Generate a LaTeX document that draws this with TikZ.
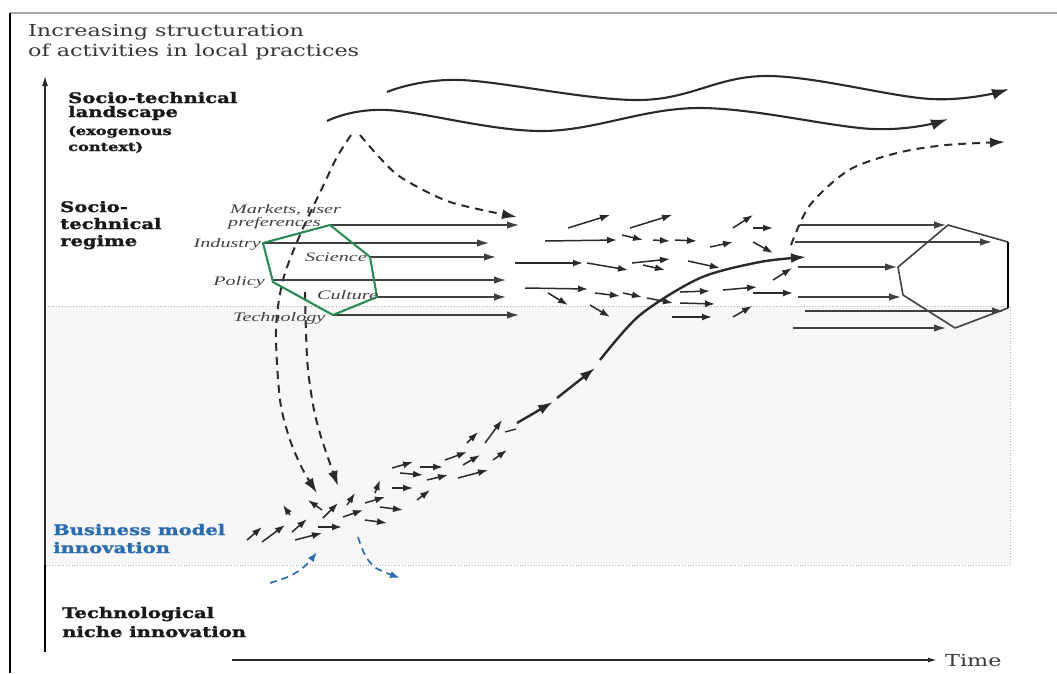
\documentclass[tikz,border=0pt]{standalone}
\usepackage{fontspec}
\setmainfont{DejaVu Serif}[FakeStretch=1.35, BoldFeatures={FakeBold=1.6}]
\newfontfamily\itfam{Liberation Serif}[FakeStretch=1.55]
\usetikzlibrary{arrows.meta}
\definecolor{ink}{HTML}{2A2A2A}
\definecolor{greyink}{HTML}{404040}
\definecolor{hexgreen}{HTML}{2A8C55}
\definecolor{bmblue}{HTML}{2B6CB0}
\definecolor{headink}{HTML}{3A3734}
\begin{document}
\begin{tikzpicture}[x=1pt,y=-1pt,
  rarrow/.style={draw=greyink, line width=2.2pt, -{Latex[length=13pt,width=7.5pt]}},
  sarrow/.style={draw=ink, line width=1.5pt, -{Latex[length=10pt,width=7pt]}},
  dasharrow/.style={draw=ink, line width=2pt, dash pattern=on 8pt off 6pt, -{Latex[length=15pt,width=10pt]}},
  wave/.style={draw=ink, line width=2.1pt, -{Latex[length=17pt,width=11pt]}},
  scurve/.style={draw=ink, line width=2.4pt, -{Latex[length=15pt,width=10pt]}},
  bluedash/.style={draw=bmblue, line width=1.7pt, dash pattern=on 7pt off 5pt, -{Latex[length=10pt,width=7pt]}},
  head/.style={font=\fontsize{16.5}{19}\selectfont, text=headink, anchor=base west, inner sep=0pt},
  lbl/.style={font=\bfseries\fontsize{14.5}{15}\selectfont, text=black!90, anchor=base west, inner sep=0pt},
  lbls/.style={font=\bfseries\fontsize{12}{14}\selectfont, text=black!90, anchor=base west, inner sep=0pt},
  itl/.style={font=\itfam\itshape\fontsize{13}{14}\selectfont, text=greyink, inner sep=0pt},
  dotln/.style={draw=gray!60, line width=0.8pt, dotted}
]
\useasboundingbox (0,0) rectangle (1057,673);
\fill[white] (0,0) rectangle (1057,673);
% frame
\draw[gray!70, line width=2.2pt] (10,13) -- (1057,13);
\draw[black, line width=2.2pt] (10,13) -- (10,673);
% shaded niche area
\fill[black!3] (45,306) rectangle (1010,565);
\draw[dotln] (45,306) -- (1010,306) -- (1010,565) -- (45,565);
% axes
\draw[ink, line width=1.3pt, -{Latex[length=10pt,width=6pt]}] (45,565) -- (45,76);
\draw[black, line width=2.6pt] (45,652) -- (45,565);
\coordinate (t0) at (232,660);
\coordinate (t1) at (937,660);
\draw[ink, line width=1.4pt, -{Latex[length=9pt,width=5pt]}] (t0) -- (t1);
\node[head, anchor=west] (time) at (945,661) {Time};
% titles
\node[head] (h1) at (28,36) {Increasing structuration};
\node[head] (h2) at (28,56) {of activities in local practices};
\node[lbl] (l1) at (68,103) {Socio-technical};
\node[lbl] (l2) at (68,117) {landscape};
\node[lbls] (l3) at (68,135) {(exogenous};
\node[lbls] (l4) at (68,151) {context)};
\node[lbl] (r1) at (60,212) {Socio-};
\node[lbl] (r2) at (60,229) {technical};
\node[lbl] (r3) at (60,246) {regime};
\node[lbl, text=bmblue] (b1) at (53,535) {Business model};
\node[lbl, text=bmblue] (b2) at (53,553) {innovation};
\node[lbl] (n1) at (62,618) {Technological};
\node[lbl] (n2) at (62,637) {niche innovation};
% landscape waves
\draw[wave] plot[smooth, tension=0.6] coordinates {(387,92) (460,80) (640,100) (766,76) (931,99) (1009,89)};
\draw[wave] plot[smooth, tension=0.6] coordinates {(327,121) (387,110) (543,131) (698,108) (873,129) (948,119)};
% dashed arrows from landscape
\draw[dasharrow] plot[smooth] coordinates {(360,135) (380,158) (402,178) (450,202) (517,217)};
\draw[dasharrow] plot[smooth] coordinates {(351,135) (337,157) (325,182) (300,235) (283,280) (276,330) (280,400) (290,440) (303,470) (317,493)};
\draw[dasharrow] plot[smooth] coordinates {(305,292) (306,333) (308,370) (314,410) (322,440) (338,486)};
\draw[dasharrow] plot[smooth] coordinates {(791,245) (810,205) (849,170) (897,153) (946,145) (1005,142)};
% regime arrows (left)
\foreach \a/\b/\c/\d in {330/225/520/225, 263/243/490/243, 370/257/497/257, 273/280/507/280, 378/297/507/297, 333/315/520/315}
  \draw[rarrow] (\a,\b) -- (\c,\d);
% green hexagon
\draw[hexgreen, line width=2.1pt, line join=round] (330,225) -- (370,257) -- (377,297) -- (333,315) -- (273,282) -- (263,243) -- cycle;
\node[itl, anchor=base west] (m1) at (230,213) {Markets, user};
\node[itl, anchor=base west] (m2) at (228,226) {preferences};
\node[itl, anchor=base east] (ind) at (261,247) {Industry};
\node[itl, anchor=base west] (sci) at (305,261) {Science};
\node[itl, anchor=base east] (pol) at (265,285) {Policy};
\node[itl, anchor=base west] (cul) at (317,299) {Culture};
\node[itl, anchor=base west] (tec) at (233,321) {Technology};
% regime cluster
\foreach \a/\b/\c/\d in {568/228/610/215, 630/228/672/215, 545/241/617/240, 622/235/643/240, 653/240/670/241, 675/240/697/241,
  515/263/583/263, 587/263/628/270, 632/263/670/259, 643/265/665/270, 688/261/720/268, 710/247/733/242, 733/228/753/215,
  753/228/773/228, 753/242/773/253, 773/280/792/268, 525/288/588/289, 595/293/620/296, 623/293/642/297, 548/293/568/305,
  590/305/610/317, 647/298/673/303, 680/292/710/291, 680/303/715/304, 672/317/712/317, 723/290/757/287, 733/317/752/306,
  753/293/793/293}
  \draw[sarrow] (\a,\b) -- (\c,\d);
% right regime
\foreach \a/\b/\c/\d in {800/225/947/225, 795/242/993/242, 798/267/898/267, 798/297/902/297, 805/311/1005/311, 793/328/947/328}
  \draw[rarrow] (\a,\b) -- (\c,\d);
\draw[greyink, line width=1.6pt, line join=round] (1008,242) -- (948,225) -- (898,267) -- (903,295) -- (955,328) -- (1008,308);
\draw[black, line width=2.4pt] (1008,242) -- (1008,308);
% niche cluster
\foreach \a/\b/\c/\d in {247/540/262/527, 262/542/285/525, 292/532/307/519, 295/540/322/533, 318/527/342/527, 323/518/338/503,
  290/515/283/505, 322/510/308/500, 343/517/363/510, 347/505/355/493, 365/520/387/523, 365/503/385/497, 375/493/380/480,
  380/507/403/510, 392/488/413/488, 392/468/413/462, 400/473/423/475, 417/500/430/490, 420/467/443/467, 427/480/448/475,
  445/460/467/452, 458/478/488/470, 463/465/480/455, 467/443/478/432, 485/443/502/420, 493/460/507/450}
  \draw[sarrow] (\a,\b) -- (\c,\d);
\draw[ink, line width=1.3pt] (505,432) -- (516,429);
% S-curve
\draw[scurve] (517,423) -- (553,402);
\draw[scurve] (557,398) -- (595,368);
\draw[scurve] plot[smooth] coordinates {(600,360) (640,315) (700,278) (760,262) (806,257)};
% blue dashed
\draw[bluedash] plot[smooth] coordinates {(270,583) (290,576) (305,566) (317,552)};
\draw[bluedash] plot[smooth] coordinates {(358,537) (365,555) (376,568) (400,578)};
\end{tikzpicture}
\end{document}
